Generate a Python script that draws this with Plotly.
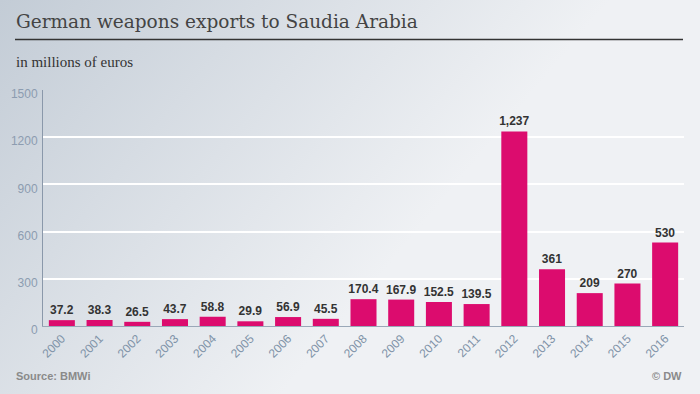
import base64
import plotly.graph_objects as go

years = [str(y) for y in range(2000, 2017)]
values = [37.2, 38.3, 26.5, 43.7, 58.8, 29.9, 56.9, 45.5, 170.4, 167.9, 152.5, 139.5, 1237, 361, 209, 270, 530]
labels = ["37.2", "38.3", "26.5", "43.7", "58.8", "29.9", "56.9", "45.5", "170.4", "167.9",
          "152.5", "139.5", "1,237", "361", "209", "270", "530"]
y_ticks = [0, 300, 600, 900, 1200, 1500]

W, H = 700, 394
L, R, T, B = 43, 16, 90, 68
pw, ph = W - L - R, H - T - B

svg = f'''<svg xmlns="http://www.w3.org/2000/svg" width="{W}" height="{H}" viewBox="0 0 {W} {H}" preserveAspectRatio="none">
<defs><linearGradient id="g" gradientUnits="userSpaceOnUse" x1="0" y1="0" x2="360" y2="300">
<stop offset="0" stop-color="#c3ccd6"/><stop offset="1" stop-color="#eff1f4"/></linearGradient></defs>
<rect width="{W}" height="{H}" fill="#eff1f4"/>
<rect width="{W}" height="{H}" fill="url(#g)"/></svg>'''
src = "data:image/svg+xml;base64," + base64.b64encode(svg.encode()).decode()

fig = go.Figure(go.Bar(
    x=years, y=values, text=labels, textposition="outside", constraintext="none",
    textfont=dict(family="Liberation Sans", size=12, color="#333333", weight="bold"),
    marker=dict(color="#dc0c6e", line=dict(width=0)),
    cliponaxis=False, hoverinfo="skip",
))

def px_x(x):
    return (x - L) / pw

def px_y(y):
    return 1 - (y - T) / ph

fig.update_layout(
    width=W, height=H, margin=dict(l=L, r=R, t=T, b=B, pad=0),
    paper_bgcolor="#eff1f4", plot_bgcolor="rgba(0,0,0,0)",
    bargap=0.31, showlegend=False,
    images=[dict(source=src, xref="paper", yref="paper",
                 x=px_x(0), y=px_y(0), sizex=W / pw, sizey=H / ph,
                 sizing="stretch", layer="below", xanchor="left", yanchor="top")],
    xaxis=dict(tickangle=-45, tickfont=dict(family="Liberation Sans", size=12, color="#7f93a8"),
               showline=True, linecolor="#9aa8b8", linewidth=1, showgrid=False, ticks="",
               automargin=False),
    yaxis=dict(range=[0, 1500], tickvals=y_ticks, ticktext=[str(v) for v in y_ticks],
               tickfont=dict(family="Liberation Sans", size=12, color="#8c9cb0"),
               showline=True, linecolor="#8a98aa", linewidth=1,
               showgrid=True, gridcolor="#ffffff", gridwidth=1.5, zeroline=False,
               ticks="", ticklabelstandoff=2, ticklabelshift=4, automargin=False),
    shapes=[dict(type="line", xref="paper", yref="paper", x0=px_x(15), x1=px_x(683),
                 y0=px_y(39.5), y1=px_y(39.5), line=dict(color="#333333", width=1.3))],
    annotations=[
        dict(text="German weapons exports to Saudia Arabia", xref="paper", yref="paper",
             x=px_x(14), y=px_y(21), xanchor="left", yanchor="middle", showarrow=False,
             font=dict(family="DejaVu Serif", size=18.5, color="#444444")),
        dict(text="in millions of euros", xref="paper", yref="paper",
             x=px_x(14), y=px_y(62), xanchor="left", yanchor="middle", showarrow=False,
             font=dict(family="Liberation Serif", size=15, color="#333333")),
        dict(text="<b>Source: BMWi</b>", xref="paper", yref="paper",
             x=px_x(14), y=px_y(376), xanchor="left", yanchor="middle", showarrow=False,
             font=dict(family="Liberation Sans", size=11, color="#8a8a8a")),
        dict(text="<b>© DW</b>", xref="paper", yref="paper",
             x=px_x(684), y=px_y(376), xanchor="right", yanchor="middle", showarrow=False,
             font=dict(family="Liberation Sans", size=11, color="#8a8a8a")),
    ],
)

fig.write_html("out.html", config={"displayModeBar": False},
               post_script="document.body.style.margin='0';document.body.style.padding='0';")
